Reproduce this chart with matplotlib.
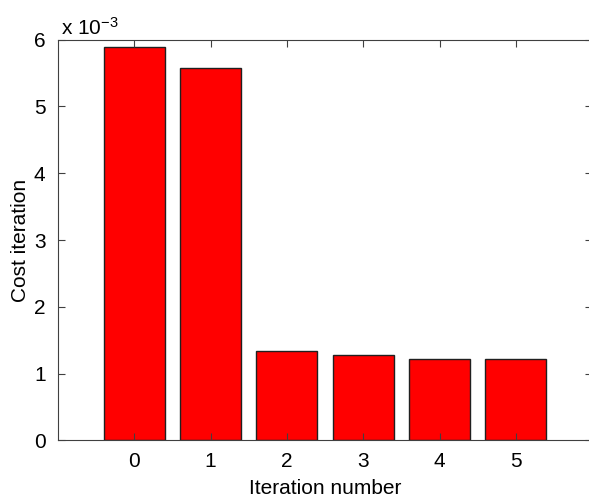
import matplotlib.pyplot as plt
import numpy as np

plt.rcParams['font.family'] = ['Liberation Sans', 'DejaVu Sans']
plt.rcParams['mathtext.default'] = 'regular'

iterations = [0, 1, 2, 3, 4, 5]
cost = [5.89e-3, 5.57e-3, 1.34e-3, 1.285e-3, 1.225e-3, 1.215e-3]

fig = plt.figure(figsize=(5.89, 4.97), dpi=100)
ax = fig.add_axes([0.0985, 0.1137, 0.907, 0.8068])

# cost scaled to 1e-3 so the exponent sits above the axis like matlab
ax.bar(iterations, np.array(cost) * 1e3, width=0.8, color='#ff0000',
       edgecolor='#202020', linewidth=1.0)

ax.set_xlim(-1, 6)
ax.set_ylim(0, 6)
ax.set_xticks(iterations)
ax.set_yticks(range(7))
ax.tick_params(direction='in', top=True, right=True, length=5,
               width=0.8, color='#404040', labelsize=15)
ax.tick_params(axis='x', pad=8)
ax.tick_params(axis='y', pad=9)
for s in ax.spines.values():
    s.set_color('#404040')
    s.set_linewidth(0.8)

ax.set_xlabel('Iteration number', fontsize=15, labelpad=6)
ax.set_ylabel('Cost iteration', fontsize=15, labelpad=3)
ax.text(0.005, 1.003, r'x 10$^{-3}$', transform=ax.transAxes,
        fontsize=15, ha='left', va='bottom')

plt.savefig('out.png', dpi=100)
